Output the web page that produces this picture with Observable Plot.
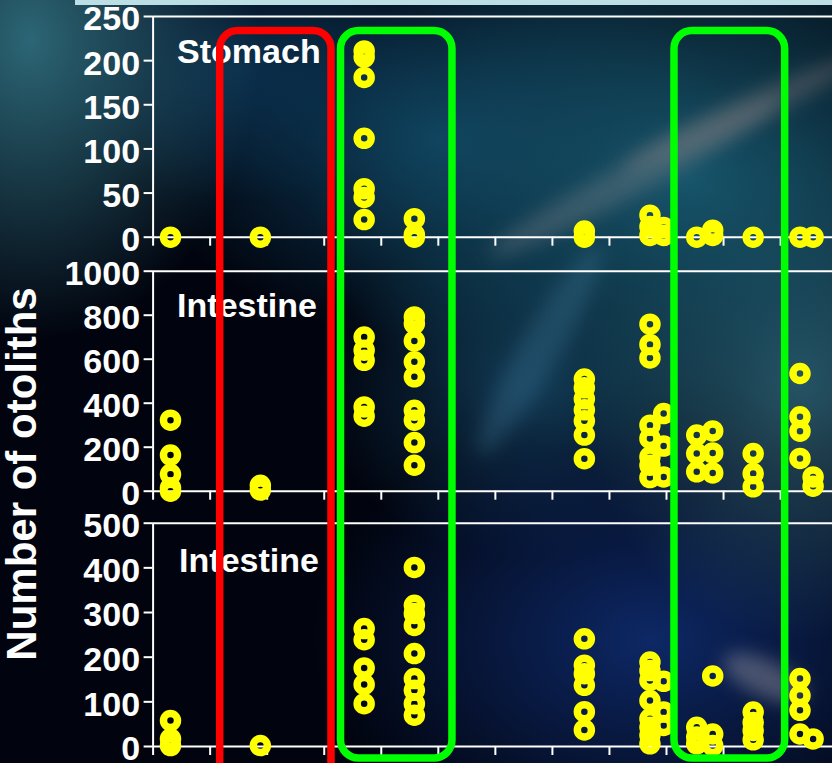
<!DOCTYPE html>
<html>
<head>
<meta charset="utf-8">
<script src="https://cdn.jsdelivr.net/npm/d3@7"></script>
<script src="https://cdn.jsdelivr.net/npm/@observablehq/plot@0.6"></script>
<style>
  html, body { margin: 0; padding: 0; background: #01040e; overflow: hidden; }
  #chart {
    position: relative; width: 832px; height: 763px; overflow: hidden;
    background:
      radial-gradient(ellipse 230px 300px at 30px 40px, rgba(44,102,118,1), rgba(44,102,118,0) 100%),
      radial-gradient(ellipse 380px 290px at 690px 180px, rgba(22,84,106,1), rgba(22,84,106,0) 100%),
      radial-gradient(ellipse 220px 260px at 800px 380px, rgba(44,88,104,0.95), rgba(44,88,104,0) 100%),
      radial-gradient(ellipse 300px 200px at 440px 140px, rgba(14,64,94,0.95), rgba(14,64,94,0) 100%),
      radial-gradient(ellipse 200px 130px at 240px 70px, rgba(10,44,76,0.9), rgba(10,44,76,0) 100%),
      radial-gradient(ellipse 340px 230px at 650px 640px, rgba(14,42,106,0.95), rgba(14,42,106,0) 100%),
      radial-gradient(ellipse 210px 170px at 530px 390px, rgba(18,60,90,0.85), rgba(18,60,90,0) 100%),
      #01040e;
  }
  .streak { position: absolute; border-radius: 50%; filter: blur(9px); }
  #topband { position: absolute; left: 75px; top: 0; width: 757px; height: 5px; background: #bcdfe5; }
  #ylabel {
    position: absolute; left: 43px; top: 474px;
    transform: rotate(-90deg); transform-origin: 0 0;
    font: bold 42px "Liberation Sans", Arial, sans-serif; color: white;
    white-space: nowrap; line-height: 1;
  }
  #ylabel span { position: absolute; left: 0; bottom: 0; transform: translateX(-50%); }
  svg { position: absolute; left: 0; top: 0; }
</style>
</head>
<body>
<div id="chart">
  <div class="streak" style="left:470px;top:160px;width:330px;height:34px;transform:rotate(-28deg);background:rgba(130,135,140,0.35)"></div>
  <div class="streak" style="left:610px;top:100px;width:260px;height:28px;transform:rotate(-25deg);background:rgba(140,125,125,0.35)"></div>
  <div class="streak" style="left:420px;top:330px;width:240px;height:40px;transform:rotate(-60deg);background:rgba(60,115,145,0.35)"></div>
  <div class="streak" style="left:720px;top:660px;width:90px;height:36px;transform:rotate(25deg);background:rgba(150,150,160,0.45)"></div>
  <div id="topband"></div>
  <div id="ylabel"><span>Number of otoliths</span></div>
</div>
<script>
// x positions of the sample groups (axis units, one tick per unit)
const groupX = [0.305, 1.88, 3.70, 4.58, 7.56, 8.71, 8.95, 9.53, 9.81, 10.52, 11.34, 11.57];
const xTicks = [0, 1, 2, 3, 4, 5, 6, 7, 8, 9, 10, 11];
const xDomain = [0, 11.91];

// Panel 1: Stomach
const stomach = [
  [0], [0], [211, 204, 181, 112, 55, 45, 20], [21, 3, 0], [7, 0], [25, 12, 2],
  [11, 2], [0], [8, 2], [0], [0], [0]
];
const stomachTicks = [0, 50, 100, 150, 200, 250];

// Panel 2: Intestine (upper)
const intestine1 = [
  [323, 164, 77, 15, 0], [27, 5], [701, 641, 595, 383, 341],
  [792, 762, 683, 588, 520, 368, 323, 221, 118],
  [510, 470, 420, 370, 320, 255, 148],
  [759, 667, 606, 300, 240, 156, 118, 62],
  [353, 205, 65], [255, 171, 88], [274, 174, 83], [171, 80, 20],
  [535, 338, 273, 149], [65, 23]
];
const intestine1Ticks = [0, 200, 400, 600, 800, 1000];

// Panel 3: Intestine (lower)
const intestine2 = [
  [58, 17, 2], [2], [264, 239, 176, 139, 96],
  [401, 316, 298, 271, 208, 152, 126, 96, 70],
  [241, 182, 163, 137, 78, 37],
  [189, 170, 148, 103, 62, 43, 25, 6],
  [146, 77, 47], [43, 21, 6], [158, 28, 2], [77, 54, 36, 15],
  [152, 114, 81, 28], [17]
];
const intestine2Ticks = [0, 100, 200, 300, 400, 500];

const panelTitles = ["Stomach", "Intestine", "Intestine"];

// highlighted ranges on the x axis
const redRanges = [{x1: 1.176, x2: 3.127}];
const greenRanges = [{x1: 3.294, x2: 5.248}, {x1: 9.14, x2: 11.08}];

const W = 832, H = 763, ML = 152.6;
const baseStyle = {
  background: "transparent", color: "white", overflow: "visible",
  fontFamily: "'Liberation Sans', Arial, sans-serif", fontWeight: "bold", fontSize: "34px"
};

function panel(title, values, ticks, mt, mb, tdx, tdy) {
  const rows = [];
  groupX.forEach((x, i) => values[i].forEach(v => rows.push({x, v})));
  const ymax = ticks[ticks.length - 1];
  return Plot.plot({
    width: W, height: H,
    marginLeft: ML, marginRight: 0, marginTop: mt, marginBottom: mb,
    style: baseStyle,
    x: {domain: xDomain, axis: null},
    y: {domain: [0, ymax], axis: null},
    marks: [
      Plot.ruleY([ymax], {stroke: "white", strokeWidth: 2}),
      Plot.ruleY([0], {stroke: "white", strokeWidth: 2}),
      Plot.ruleX([0], {stroke: "white", strokeWidth: 2}),
      Plot.axisX(xTicks, {anchor: "bottom", tickSize: 9, fill: "none", stroke: "white", strokeWidth: 2, label: null}),
      Plot.axisY(ticks, {anchor: "left", tickSize: 9, fill: "none", stroke: "white", strokeWidth: 2, label: null}),
      Plot.axisY(ticks, {anchor: "left", tickSize: 0, tickPadding: 13, dy: 3, fill: "white", fontSize: 34,
        fontWeight: "bold", tickFormat: d => String(d), label: null}),
      Plot.text([title], {frameAnchor: "top-left", dx: tdx, dy: tdy, lineAnchor: "bottom", textAnchor: "start",
        fontSize: 34, fontWeight: "bold", fill: "white"}),
      Plot.dot(rows, {x: "x", y: "v", r: 7, stroke: "#ffff00", strokeWidth: 7.5, fill: "none"})
    ]
  });
}

const chart = document.getElementById("chart");
chart.appendChild(panel(panelTitles[0], stomach, stomachTicks, 16, H - 236.7, 24, 46));
chart.appendChild(panel(panelTitles[1], intestine1, intestine1Ticks, 270.7, H - 490.7, 24, 46));
chart.appendChild(panel(panelTitles[2], intestine2, intestine2Ticks, 522.7, H - 746, 26, 49));

// highlight boxes
chart.appendChild(Plot.plot({
  width: W, height: H, marginLeft: ML, marginRight: 0, marginTop: 30.5, marginBottom: 5,
  style: baseStyle,
  x: {domain: xDomain, axis: null},
  marks: [Plot.rect(greenRanges, {x1: "x1", x2: "x2", stroke: "#00ff00", strokeWidth: 7.5, fill: "none", rx: 18})]
}));
chart.appendChild(Plot.plot({
  width: W, height: 820, marginLeft: ML, marginRight: 0, marginTop: 30.5, marginBottom: 0,
  style: baseStyle,
  x: {domain: xDomain, axis: null},
  marks: [Plot.rect(redRanges, {x1: "x1", x2: "x2", stroke: "#ff0000", strokeWidth: 7.5, fill: "none", rx: 18})]
}));
</script>
</body>
</html>
